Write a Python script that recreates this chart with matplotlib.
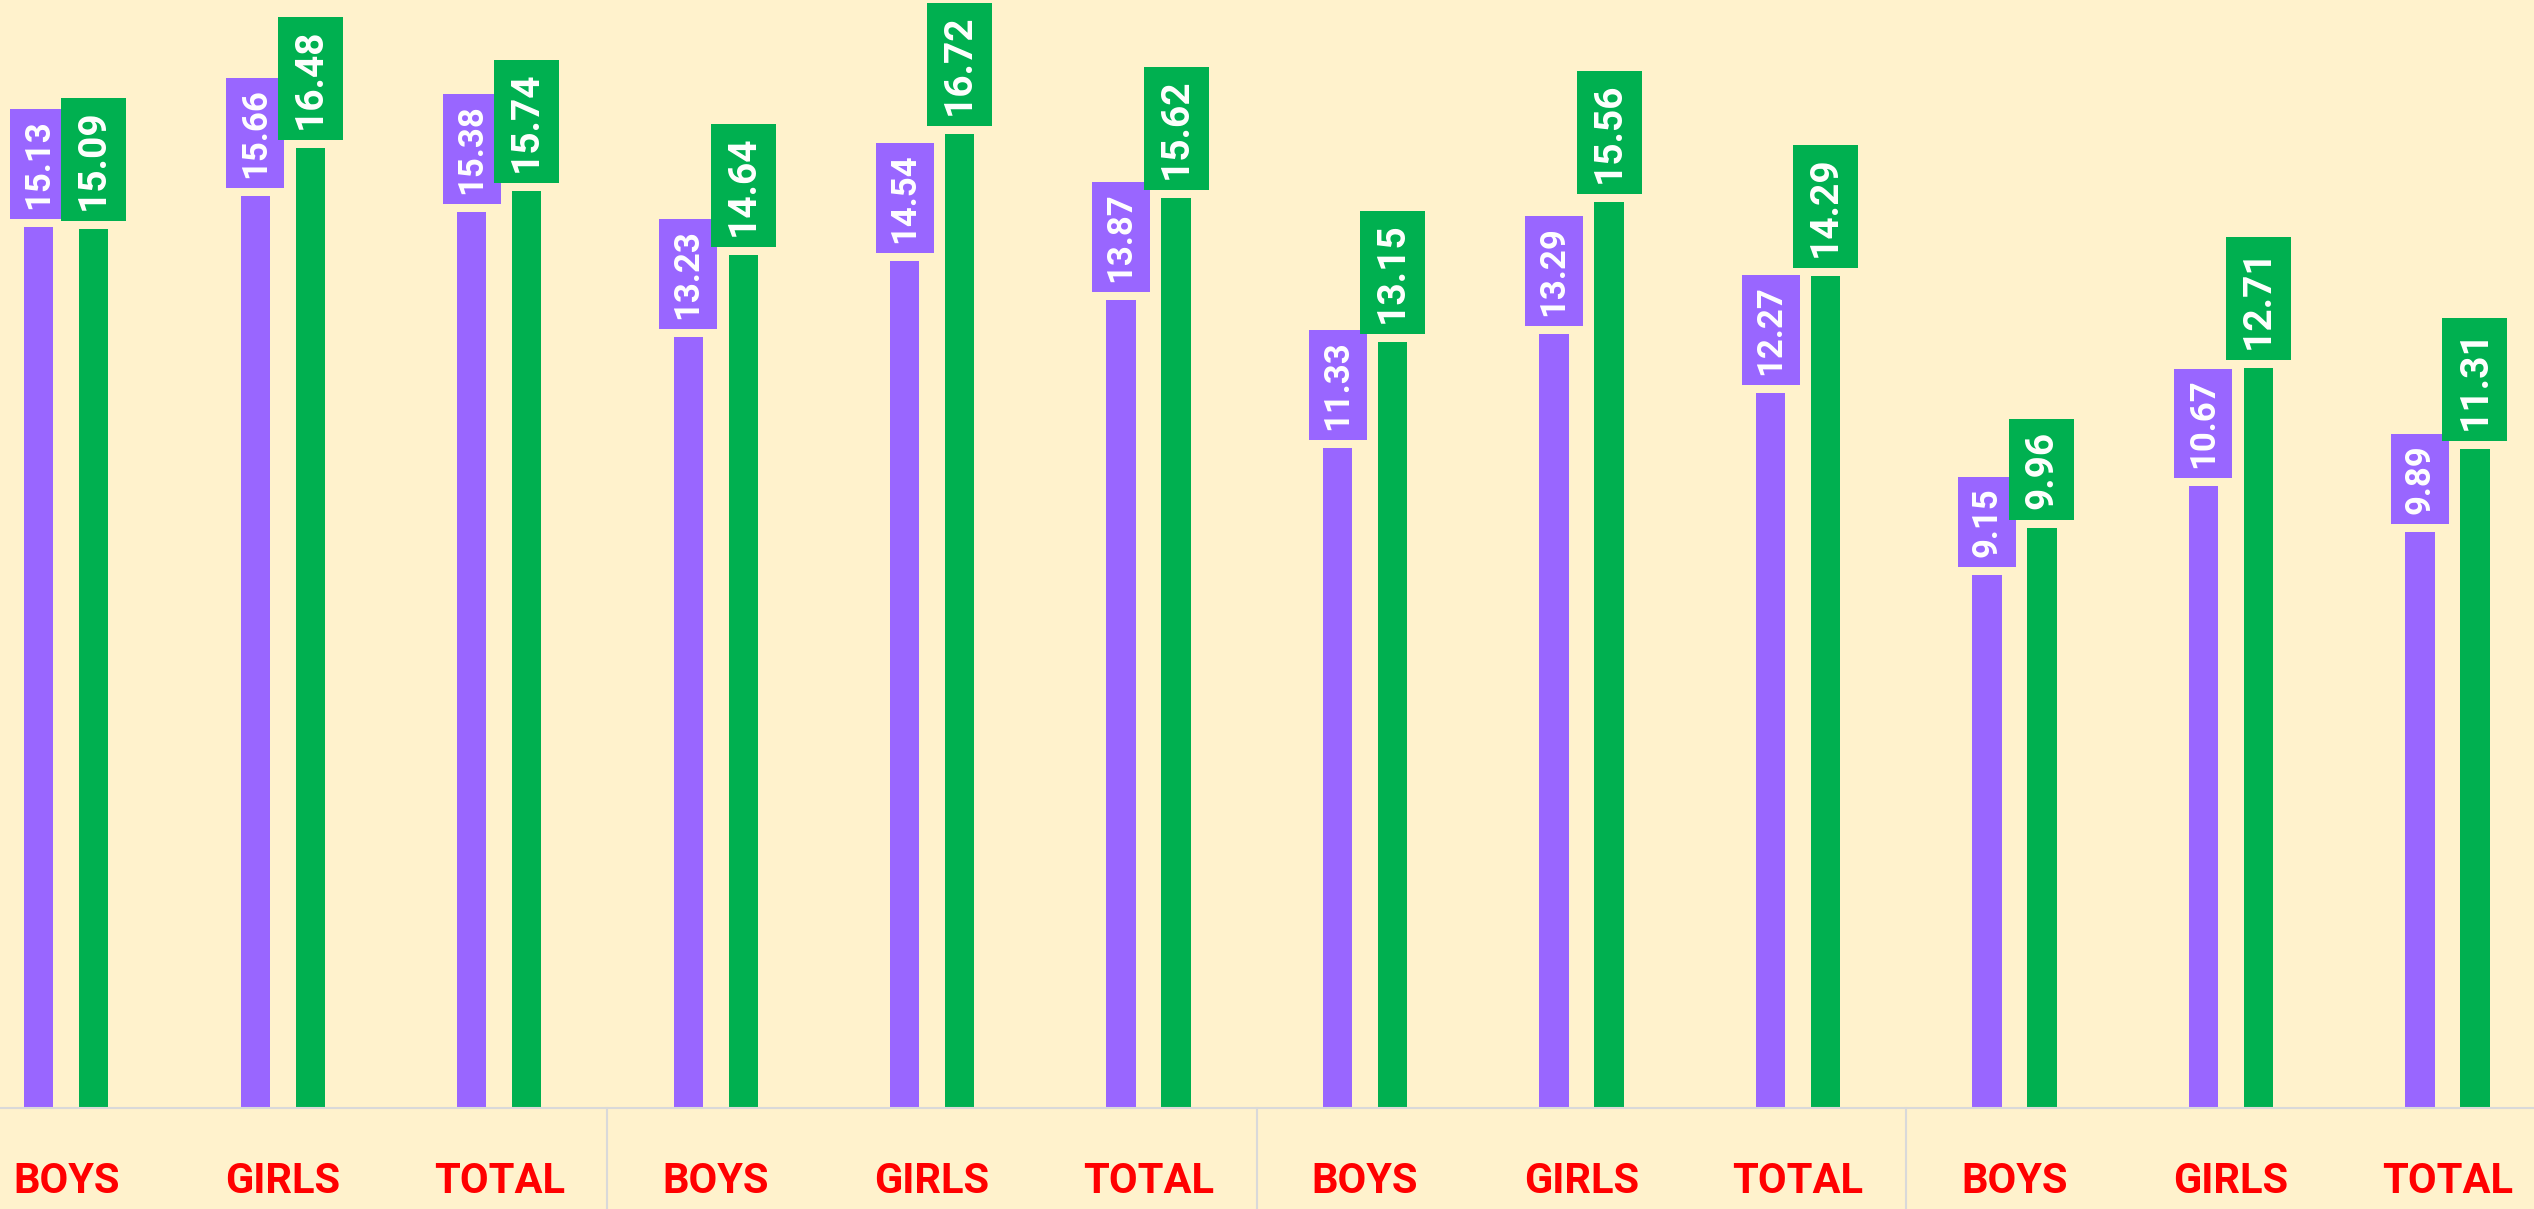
import matplotlib.pyplot as plt
from matplotlib.path import Path
import numpy as np

# ---------------------------------------------------------------
# data
# ---------------------------------------------------------------
categories = ['BOYS', 'GIRLS', 'TOTAL'] * 4
purple_vals = [15.13, 15.66, 15.38, 13.23, 14.54, 13.87, 11.33, 13.29, 12.27, 9.15, 10.67, 9.89]
green_vals = [15.09, 16.48, 15.74, 14.64, 16.72, 15.62, 13.15, 15.56, 14.29, 9.96, 12.71, 11.31]
group_breaks = [2.5, 5.5, 8.5]

bg = '#FFF2CC'
purple = '#9966FF'
green = '#00B050'


def tag_box(x0, y0, width, height, mutation_size):
    # rectangle with less padding along the text than across it
    pa = 0.29 * mutation_size
    pc = 0.36 * mutation_size
    x1, y1 = x0 - pa, y0 - pc
    x2, y2 = x0 + width + pa, y0 + height + pc
    return Path([(x1, y1), (x2, y1), (x2, y2), (x1, y2), (x1, y1)], closed=True)


fig = plt.figure(figsize=(25.34, 12.09), dpi=100)
fig.patch.set_facecolor(bg)
ax = fig.add_axes([0, 0.0835, 1, 0.9165])
ax.set_facecolor(bg)

x = np.arange(len(categories))
off = 0.127
w = 0.135
ax.bar(x - off, purple_vals, width=w, color=purple)
ax.bar(x + off, green_vals, width=w, color=green)

# data labels, rotated, in boxes
for xi, v in zip(x, purple_vals):
    ax.annotate(f'{v:.2f}', xy=(xi - off, v), xytext=(0, 13), textcoords='offset points',
                rotation=90, ha='center', va='bottom', color='white', fontsize=25,
                fontweight='bold', family='Roboto',
                bbox=dict(boxstyle=tag_box, fc=purple, ec='none'))
for xi, v in zip(x, green_vals):
    ax.annotate(f'{v:.2f}', xy=(xi + off, v), xytext=(0, 13.7), textcoords='offset points',
                rotation=90, ha='center', va='bottom', color='white', fontsize=28,
                fontweight='bold', family='Roboto',
                bbox=dict(boxstyle=tag_box, fc=green, ec='none'))

ax.set_xlim(-0.306, 11.40)
ax.set_ylim(0, 19.02)

for s in ['top', 'left', 'right']:
    ax.spines[s].set_visible(False)
ax.spines['bottom'].set_color('#D9D9D9')
ax.spines['bottom'].set_linewidth(1.5)

# group separators below the axis
for b in group_breaks:
    ax.plot([b, b], [0, -1.8], color='#D9D9D9', lw=1.5, clip_on=False)

ax.set_yticks([])
ax.set_xticks(x)
ax.set_xticklabels(categories, color='#FF0000', fontsize=30, fontweight='bold', family='Roboto')
ax.tick_params(axis='x', length=0, pad=38)

fig.savefig('out.png', dpi=100, facecolor=bg)
